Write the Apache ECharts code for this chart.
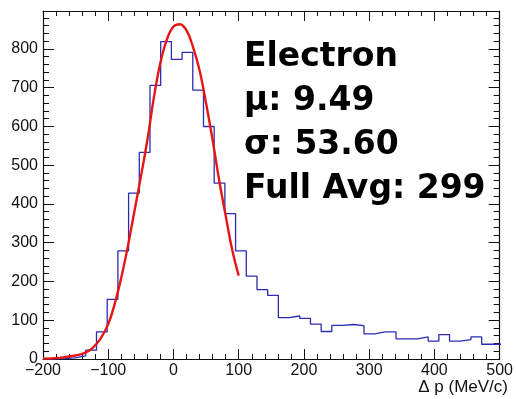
<!DOCTYPE html>
<html>
<head>
<meta charset="utf-8">
<script src="https://cdn.jsdelivr.net/npm/echarts@6/dist/echarts.min.js"></script>
<style>
html,body{margin:0;padding:0;background:#fff;}
#c{width:516px;height:399px;}
</style>
</head>
<body>
<div id="c"></div>
<script>
// Histogram: bin start, bin width, and counts per bin
const binStart = -200;
const binWidth = 16.4;
const binCounts = [0, 1, 3, 8, 23, 70, 154, 279, 428, 533, 706, 819, 773, 791, 694, 600, 454, 375, 279, 214,
  179, 164, 107, 111, 105, 90, 71, 87, 89, 86, 65, 70, 70, 52, 52, 57, 46, 63, 46, 50, 57, 38, 38];

// Fit curve points
const fitX = [-200, -175, -150, -137, -125, -112, -100, -90, -80, -70, -60, -50, -40, -30, -20, -10, 0, 10, 20, 30, 40, 50, 60, 70, 80, 90, 100];
const fitY = [1, 3, 9, 15, 27, 52, 90, 143, 210, 290, 380, 470, 565, 675, 765, 825, 858, 864, 848, 805, 745, 660, 565, 462, 370, 282, 215];

// Tick labels
const xTicks = [-200, -100, 0, 100, 200, 300, 400, 500];
const yTicks = [0, 100, 200, 300, 400, 500, 600, 700, 800];

// Text box
const infoLines = ['Electron', 'μ: 9.49', 'σ: 53.60', 'Full Avg: 299'];
const xTitle = 'Δ p (MeV/c)';

const histData = [];
for (let k = 0; k < binCounts.length; k++) {
  histData.push([binStart + k * binWidth, binCounts[k]]);
}
histData.push([binStart + binCounts.length * binWidth, binCounts[binCounts.length - 1]]);
const fitData = fitX.map((x, i) => [x, fitY[i]]);

const chart = echarts.init(document.getElementById('c'), null, {renderer: 'canvas'});
const axisCol = '#111';
const lblFont = 'Liberation Sans, Arial, Helvetica, sans-serif';

function xAx(pos, showLabel) {
  return {
    type: 'value', position: pos, min: xTicks[0], max: xTicks[xTicks.length - 1], interval: 100,
    axisLine: {show: true, onZero: false, lineStyle: {color: axisCol, width: 1.2}},
    axisTick: {show: true, inside: true, length: 10, lineStyle: {color: axisCol, width: 1}},
    minorTick: {show: true, splitNumber: 5, length: 5, lineStyle: {color: axisCol, width: 1}},
    splitLine: {show: false},
    axisLabel: {
      show: showLabel, margin: 4, color: '#111', fontSize: 16, fontFamily: lblFont,
      formatter: v => xTicks.indexOf(v) >= 0 ? String(v).replace('-', '\u2212') : ''
    }
  };
}
function yAx(pos, showLabel) {
  return {
    type: 'value', position: pos, min: 0, max: 898, interval: 100,
    axisLine: {show: true, onZero: false, lineStyle: {color: axisCol, width: 1.2}},
    axisTick: {show: true, inside: true, length: 11, lineStyle: {color: axisCol, width: 1}},
    minorTick: {show: true, splitNumber: 5, length: 6, lineStyle: {color: axisCol, width: 1}},
    splitLine: {show: false},
    axisLabel: {
      show: showLabel, margin: 5, color: '#111', fontSize: 16, fontFamily: lblFont,
      showMaxLabel: false,
      formatter: v => yTicks.indexOf(v) >= 0 ? String(v) : ''
    }
  };
}

const infoText = infoLines.map((t, i) => ({
  type: 'text', left: 244, top: 41 + i * 44,
  style: {text: t, fill: '#000', font: 'bold 33px "DejaVu Sans", sans-serif', textVerticalAlign: 'top'}
}));

chart.setOption({
  animation: false,
  backgroundColor: '#fff',
  grid: {left: 43, right: 11, top: 11, bottom: 40, containLabel: false},
  xAxis: [xAx('bottom', true), xAx('top', false)],
  yAxis: [yAx('left', true), yAx('right', false)],
  series: [
    {
      type: 'line', xAxisIndex: 0, yAxisIndex: 0, data: histData, step: 'end',
      symbol: 'none', lineStyle: {color: '#2b2bb3', width: 1.3}, clip: true, z: 2
    },
    {
      type: 'line', xAxisIndex: 0, yAxisIndex: 0, data: fitData, smooth: 0.4,
      symbol: 'none', lineStyle: {color: '#e81515', width: 2.4}, clip: true, z: 3
    }
  ],
  graphic: infoText.concat([
    {
      type: 'text', right: 8, top: 379,
      style: {text: xTitle, fill: '#111', font: '17px "Liberation Sans", Arial, sans-serif'}
    }
  ])
});
</script>
</body>
</html>
